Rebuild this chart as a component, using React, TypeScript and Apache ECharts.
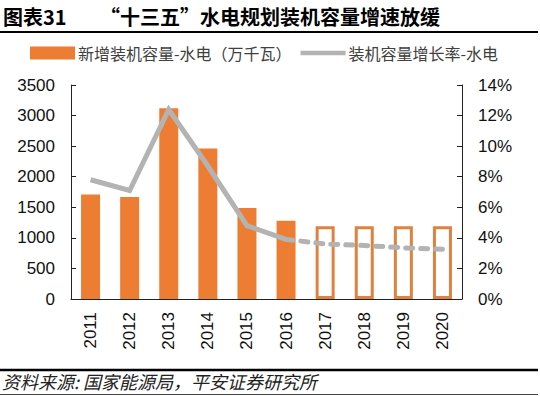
import React, { useEffect, useRef } from "react";
import * as echarts from "echarts";

const years = ["2011", "2012", "2013", "2014", "2015", "2016", "2017", "2018", "2019", "2020"];
const newCapacity = [1710, 1670, 3120, 2460, 1490, 1280, 1190, 1190, 1190, 1190];
const isForecast = [false, false, false, false, false, false, true, true, true, true];
const growthActual = [7.8, 7.1, 12.4, 8.7, 4.8, 3.9, null, null, null, null];
const growthForecast = [null, null, null, null, null, 3.9, 3.6, 3.5, 3.35, 3.25];
const leftTicks = { min: 0, max: 3500, interval: 500 };
const rightTicks = { min: 0, max: 14, interval: 2 };

const barName = "新增装机容量-水电（万千瓦）";
const lineName = "装机容量增长率-水电";
const ORANGE = "#EE7D34";
const GRAY = "#B3B3B3";
const NUM_FONT = "Liberation Sans, Arial, sans-serif";
const CJK_FONT = "Noto Sans CJK SC, sans-serif";

export default function App() {
  const ref = useRef<HTMLDivElement>(null);
  useEffect(() => {
    if (!ref.current) return;
    const chart = echarts.init(ref.current, undefined, { renderer: "svg" });
    chart.setOption({
      animation: false,
      backgroundColor: "#ffffff",
      legend: {
        top: 40,
        left: 25,
        itemWidth: 45,
        itemHeight: 13,
        itemGap: 9,
        textStyle: { fontFamily: CJK_FONT, fontSize: 16, color: "#404040", padding: [0, 0, 0, -2] },
        data: [
          { name: barName, icon: "rect" },
          { name: lineName, icon: "path://M0,0 H40 V4 H0 Z" },
        ],
      },
      grid: { left: 71, right: 78, top: 85, bottom: 97 },
      xAxis: {
        type: "category",
        data: years,
        axisLine: { lineStyle: { color: "#222", width: 1 } },
        axisTick: { inside: true, length: 4, lineStyle: { color: "#222" } },
        axisLabel: { rotate: 90, margin: 13, fontSize: 17, fontFamily: NUM_FONT, color: "#111" },
      },
      yAxis: [
        {
          type: "value",
          ...leftTicks,
          splitLine: { show: false },
          axisLine: { show: true, lineStyle: { color: "#222" } },
          axisTick: { show: true, inside: true, length: 5, lineStyle: { color: "#222" } },
          axisLabel: { fontSize: 17, fontFamily: NUM_FONT, color: "#111", margin: 16, formatter: (v: number) => String(v) },
        },
        {
          type: "value",
          ...rightTicks,
          position: "right",
          splitLine: { show: false },
          axisLine: { show: true, lineStyle: { color: "#222" } },
          axisTick: { show: true, inside: true, length: 5, lineStyle: { color: "#222" } },
          axisLabel: { fontSize: 17, fontFamily: NUM_FONT, color: "#111", margin: 16, formatter: "{value}%" },
        },
      ],
      series: [
        {
          name: barName,
          type: "bar",
          barWidth: 19,
          itemStyle: { color: ORANGE },
          data: newCapacity.map((v, i) =>
            isForecast[i]
              ? { value: v, itemStyle: { color: "#ffffff", borderColor: "#E0813F", borderWidth: 3 } }
              : v
          ),
        },
        {
          name: lineName,
          type: "line",
          yAxisIndex: 1,
          symbol: "none",
          color: GRAY,
          lineStyle: { color: GRAY, width: 5, join: "miter" },
          data: growthActual,
        },
        {
          name: lineName,
          type: "line",
          yAxisIndex: 1,
          symbol: "none",
          color: GRAY,
          lineStyle: { color: GRAY, width: 5, type: [7, 8], cap: "round" },
          data: growthForecast,
        },
      ],
      graphic: [
        {
          type: "text",
          left: 3,
          top: 6,
          style: { text: "图表31", fontFamily: CJK_FONT, fontSize: 20, fontWeight: "bold", fill: "#000" },
        },
        {
          type: "text",
          left: 100,
          top: 6,
          style: { text: "“十三五”水电规划装机容量增速放缓", fontFamily: CJK_FONT, fontSize: 20, fontWeight: "bold", fill: "#000" },
        },
        { type: "line", shape: { x1: 0, y1: 32, x2: 538, y2: 32 }, style: { stroke: "#000", lineWidth: 2 } },
        { type: "line", shape: { x1: 0, y1: 370, x2: 538, y2: 370 }, style: { stroke: "#000", lineWidth: 2.5 } },
        { type: "line", shape: { x1: 0, y1: 394.5, x2: 538, y2: 394.5 }, style: { stroke: "#444", lineWidth: 1 } },
        {
          type: "text",
          left: 2,
          top: 372,
          style: { text: "资料来源: 国家能源局，平安证券研究所", fontFamily: CJK_FONT, fontSize: 18, fontStyle: "italic", fill: "#222" },
        },
      ],
    });
    return () => chart.dispose();
  }, []);
  return <div ref={ref} style={{ width: 540, height: 396, position: "fixed", left: 0, top: 0 }} />;
}
